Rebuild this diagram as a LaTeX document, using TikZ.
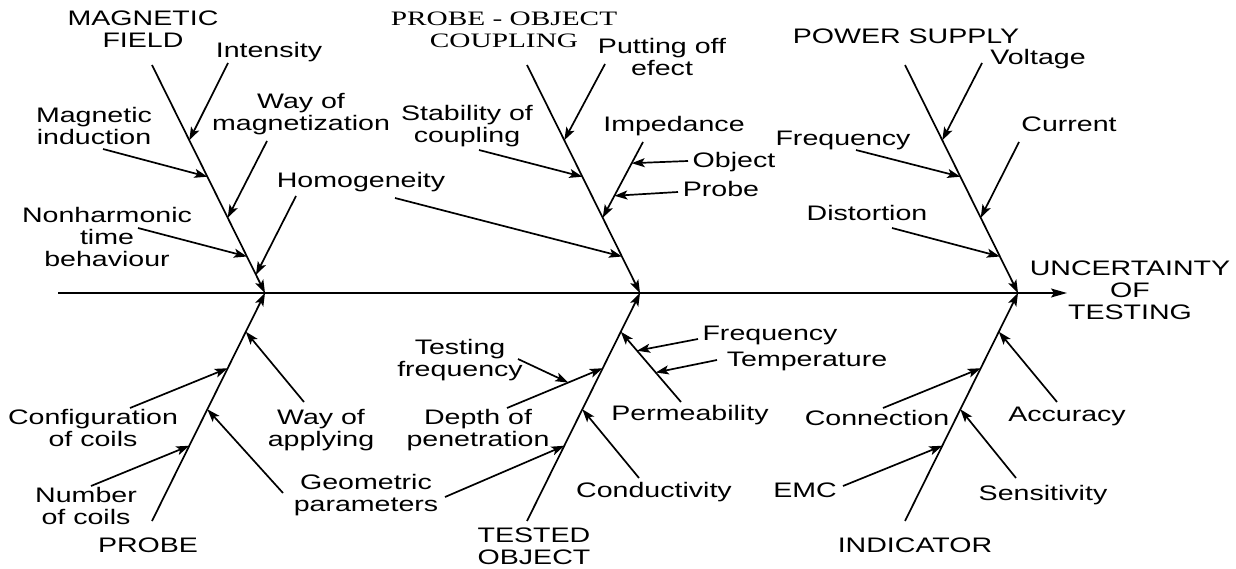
\documentclass[tikz,border=0pt]{standalone}
\usepackage{fontspec}
\setmainfont{Liberation Sans}
\newfontfamily\titleserif{Liberation Serif}
\usetikzlibrary{arrows.meta,calc}

\begin{document}
\begin{tikzpicture}[x=1pt,y=-1pt,
  lbl/.style={font=\fontsize{21}{22}\selectfont, align=center, inner sep=0pt, xscale=1.36},
  serifttl/.style={font=\titleserif\fontsize{20.5}{22}\selectfont, align=center, inner sep=0pt, xscale=1.43},
  bone/.style={line width=1.7pt, -{Stealth[length=13pt,width=9pt,inset=3pt]}},
  spine/.style={line width=1.7pt, -{Stealth[length=16pt,width=9pt,inset=3pt]}}]
\useasboundingbox (0,0) rectangle (1236,569);

% ---------- skeleton: spine and the six main bones ----------
\coordinate (spS) at (58,293);
\coordinate (spE) at (1067,293);
\coordinate (J1) at (265,293);
\coordinate (J2) at (640,293);
\coordinate (J3) at (1018,293);
\coordinate (mfT) at (152,65);
\coordinate (pcT) at (527,65);
\coordinate (psT) at (905,65);
\coordinate (prB) at (152,521);
\coordinate (toB) at (527,521);
\coordinate (inB) at (905,521);

\draw[spine] (spS) -- (spE);
\draw[bone] (mfT) -- (J1);
\draw[bone] (pcT) -- (J2);
\draw[bone] (psT) -- (J3);
\draw[bone] (prB) -- (J1);
\draw[bone] (toB) -- (J2);
\draw[bone] (inB) -- (J3);

% ---------- labels ----------
\node[lbl] (mf) at (143,29) {MAGNETIC\\FIELD};
\node[serifttl] (pc) at (504,30) {PROBE - OBJECT\\COUPLING};
\node[lbl] (ps) at (906,36) {POWER SUPPLY};
\node[lbl] (ut) at (1130,290) {UNCERTAINTY\\OF\\TESTING};
\node[lbl] (pr) at (148,545) {PROBE};
\node[lbl] (to) at (534,546) {TESTED\\OBJECT};
\node[lbl] (ind) at (915,545) {INDICATOR};

\node[lbl] (intens) at (269,52) {Intensity};
\node[lbl] (magind) at (94,126) {Magnetic\\induction};
\node[lbl] (waymag) at (301,114) {Way of\\magnetization};
\node[lbl] (homog) at (361,182) {Homogeneity};
\node[lbl] (nonh) at (107,237) {Nonharmonic\\time\\behaviour};

\node[lbl] (putoff) at (662,57) {Putting off\\efect};
\node[lbl] (stab) at (467,126) {Stability of\\coupling};
\node[lbl] (imped) at (674,126) {Impedance};
\node[lbl] (obj) at (734,162) {Object};
\node[lbl] (prb) at (721,189) {Probe};

\node[lbl] (volt) at (1038,59) {Voltage};
\node[lbl] (freqt) at (843,140) {Frequency};
\node[lbl] (curr) at (1069,124) {Current};
\node[lbl] (dist) at (867,213) {Distortion};

\node[lbl] (conf) at (93,428) {Configuration\\of coils};
\node[lbl] (wayapp) at (321,430) {Way of\\applying};
\node[lbl] (numc) at (86,506) {Number\\of coils};
\node[lbl] (geom) at (366,495) {Geometric\\parameters};

\node[lbl] (testf) at (460,360) {Testing\\frequency};
\node[lbl] (depth) at (478,430) {Depth of\\penetration};
\node[lbl] (perm) at (690,415) {Permeability};
\node[lbl] (freqb) at (770,335) {Frequency};
\node[lbl] (temp) at (807,361) {Temperature};
\node[lbl] (cond) at (654,492) {Conductivity};

\node[lbl] (conn) at (877,418) {Connection};
\node[lbl] (acc) at (1067,416) {Accuracy};
\node[lbl] (emc) at (805,490) {EMC};
\node[lbl] (sens) at (1043,495) {Sensitivity};

% ---------- cause arrows: tails ----------
\coordinate (tInt) at (228,63);
\coordinate (tMag) at (103,149);
\coordinate (tWay) at (267,141);
\coordinate (tNon) at (138,228);
\coordinate (tHoA) at (296,196);
\coordinate (tHoB) at (395,198);
\coordinate (tPut) at (605,64);
\coordinate (tSta) at (479,150);
\coordinate (tImp) at (643,142);
\coordinate (tObj) at (688,161);
\coordinate (tPrb) at (678,192);
\coordinate (tVol) at (982,63);
\coordinate (tFrT) at (856,150);
\coordinate (tCur) at (1019,142);
\coordinate (tDis) at (892,228);
\coordinate (tApp) at (304,402);
\coordinate (tCfg) at (130,408);
\coordinate (tGeA) at (283,493);
\coordinate (tGeB) at (445,497);
\coordinate (tNum) at (91,486);
\coordinate (tTsf) at (518,359);
\coordinate (tDep) at (507,408);
\coordinate (tPer) at (681,402);
\coordinate (tFrB) at (698,339);
\coordinate (tTmp) at (717,360);
\coordinate (tCnd) at (639,478);
\coordinate (tAcc) at (1057,402);
\coordinate (tCon) at (883,408);
\coordinate (tSen) at (1016,478);
\coordinate (tEmc) at (843,486);

% ---------- cause arrows: heads on the bones ----------
\coordinate (hInt) at ($(mfT)!0.33!(J1)$);
\coordinate (hMag) at ($(mfT)!0.49!(J1)$);
\coordinate (hWay) at ($(mfT)!0.67!(J1)$);
\coordinate (hNon) at ($(mfT)!0.84!(J1)$);
\coordinate (hHoA) at ($(mfT)!0.92!(J1)$);
\coordinate (hHoB) at ($(pcT)!0.84!(J2)$);
\coordinate (hPut) at ($(pcT)!0.33!(J2)$);
\coordinate (hSta) at ($(pcT)!0.49!(J2)$);
\coordinate (hImp) at ($(pcT)!0.67!(J2)$);
\coordinate (hObj) at ($(tImp)!0.28!(hImp)$);
\coordinate (hPrb) at ($(tImp)!0.71!(hImp)$);
\coordinate (hVol) at ($(psT)!0.33!(J3)$);
\coordinate (hFrT) at ($(psT)!0.49!(J3)$);
\coordinate (hCur) at ($(psT)!0.67!(J3)$);
\coordinate (hDis) at ($(psT)!0.84!(J3)$);

\coordinate (hApp) at ($(prB)!0.83!(J1)$);
\coordinate (hCfg) at ($(prB)!0.67!(J1)$);
\coordinate (hGeA) at ($(prB)!0.49!(J1)$);
\coordinate (hNum) at ($(prB)!0.33!(J1)$);
\coordinate (hPer) at ($(toB)!0.83!(J2)$);
\coordinate (hDep) at ($(toB)!0.67!(J2)$);
\coordinate (hCnd) at ($(toB)!0.49!(J2)$);
\coordinate (hGeB) at ($(toB)!0.33!(J2)$);
\coordinate (hTsf) at ($(tDep)!0.64!(hDep)$);
\coordinate (hFrB) at ($(tPer)!0.73!(hPer)$);
\coordinate (hTmp) at ($(tPer)!0.42!(hPer)$);
\coordinate (hAcc) at ($(inB)!0.83!(J3)$);
\coordinate (hCon) at ($(inB)!0.67!(J3)$);
\coordinate (hSen) at ($(inB)!0.49!(J3)$);
\coordinate (hEmc) at ($(inB)!0.33!(J3)$);

\foreach \c in {Int,Mag,Way,Non,HoA,HoB,Put,Sta,Imp,Obj,Prb,Vol,FrT,Cur,Dis,
                App,Cfg,GeA,GeB,Num,Tsf,Dep,Per,FrB,Tmp,Cnd,Acc,Con,Sen,Emc}
  \draw[bone] (t\c) -- (h\c);
\end{tikzpicture}
\end{document}
